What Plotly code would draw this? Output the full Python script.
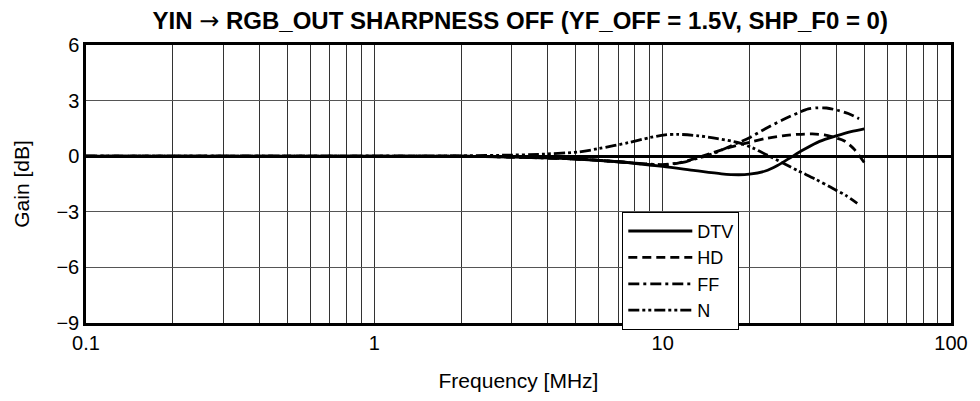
import plotly.graph_objects as go

# ---- data ----
dtv_f = [0.1, 1, 2, 3, 5, 7, 10, 13, 16, 18.3, 20, 22.7, 25, 27.2, 31, 35, 40, 45, 50]
dtv_db = [0, 0, 0, -0.05, -0.15, -0.3, -0.55, -0.78, -0.95, -1.0, -0.97, -0.8, -0.5, -0.16, 0.37, 0.8, 1.1, 1.33, 1.48]

hd_f = [0.1, 1, 2, 3, 5, 7, 10, 11.5, 13.3, 15, 17.3, 20, 22.7, 26, 29.5, 33, 36.4, 40, 42.7, 46, 50]
hd_db = [0, 0, 0, -0.05, -0.15, -0.3, -0.48, -0.35, -0.07, 0.2, 0.5, 0.75, 0.95, 1.1, 1.18, 1.2, 1.15, 0.98, 0.82, 0.4, -0.34]

ff_f = [0.1, 1, 2, 3, 5, 7, 10, 12, 13.3, 15, 18.3, 20, 22.7, 26, 29.5, 32, 34.5, 37, 40.4, 44, 48]
ff_db = [0, 0, 0, -0.05, -0.15, -0.3, -0.45, -0.3, -0.1, 0.15, 0.73, 1.0, 1.48, 1.95, 2.34, 2.55, 2.61, 2.6, 2.48, 2.3, 2.02]

n_f = [0.1, 1, 1.5, 2, 3, 3.7, 5.1, 6, 7.6, 9, 10.2, 11.3, 13.3, 15.5, 18.3, 20.5, 22.7, 26, 29.5, 34, 38.3, 43, 47.3]
n_db = [0, 0, 0, 0.02, 0.06, 0.1, 0.23, 0.41, 0.73, 1.0, 1.15, 1.18, 1.1, 0.95, 0.73, 0.45, 0.11, -0.35, -0.79, -1.25, -1.68, -2.1, -2.54]

x_tickvals = [m * 10 ** e for e in (-1, 0, 1) for m in range(1, 10)] + [100]
x_ticktext = ["0.1", "", "", "", "", "", "", "", "",
              "1", "", "", "", "", "", "", "", "",
              "10", "", "", "", "", "", "", "", "", "100"]
y_tickvals = [-9, -6, -3, 0, 3, 6]

FONT = "Liberation Sans, Arial, sans-serif"

fig = go.Figure()
series = [
    ("DTV", dtv_f, dtv_db, "solid"),
    ("HD", hd_f, hd_db, "9px,5px"),
    ("FF", ff_f, ff_db, "11px,4px,3px,4px"),
    ("N", n_f, n_db, "11px,3px,3px,3px,3px,3px"),
]
for name, f, db, dash in series:
    fig.add_trace(go.Scatter(
        x=f, y=db, name=name, mode="lines",
        line=dict(color="black", width=2.8, dash=dash, shape="spline", smoothing=0.8),
    ))

# page body has an 8px default margin, so the figure is sized/offset to compensate
fig.update_layout(
    width=972, height=393,
    margin=dict(l=78, r=27, t=37, b=76),
    paper_bgcolor="white", plot_bgcolor="white",
    font=dict(family=FONT, size=20, color="black"),
    title=dict(
        text="<b>YIN </b><span style='font-family:DejaVu Sans;font-weight:normal'>\u2192</span><b> RGB_OUT SHARPNESS OFF (YF_OFF = 1.5V, SHP_F0 = 0)</b>",
        x=0.527, xanchor="center", y=0.969, yanchor="middle",
        font=dict(family=FONT, size=24, color="black"),
    ),
    showlegend=True,
    legend=dict(
        x=0.62, y=0.40, xanchor="left", yanchor="top",
        bgcolor="white", bordercolor="black", borderwidth=1,
        font=dict(family=FONT, size=18, color="black"),
        itemwidth=64, tracegroupgap=0,
    ),
)
fig.update_xaxes(
    type="log", range=[-1, 2],
    tickvals=x_tickvals, ticktext=x_ticktext,
    tickfont=dict(family=FONT, size=20),
    showgrid=True, gridcolor="#333333", gridwidth=1,
    showline=True, mirror=True, linecolor="black", linewidth=2.5,
    ticks="", zeroline=False,
    title=dict(text="Frequency [MHz]", font=dict(family=FONT, size=21), standoff=21),
)
fig.update_yaxes(
    range=[-9, 6], tickvals=y_tickvals,
    tickfont=dict(family=FONT, size=20),
    showgrid=True, gridcolor="#555555", gridwidth=1,
    zeroline=True, zerolinecolor="black", zerolinewidth=2.5,
    showline=True, mirror=True, linecolor="black", linewidth=2.5,
    ticks="",
    title=dict(text="Gain [dB]", font=dict(family=FONT, size=21), standoff=22),
)

fig.write_html("out.html")
